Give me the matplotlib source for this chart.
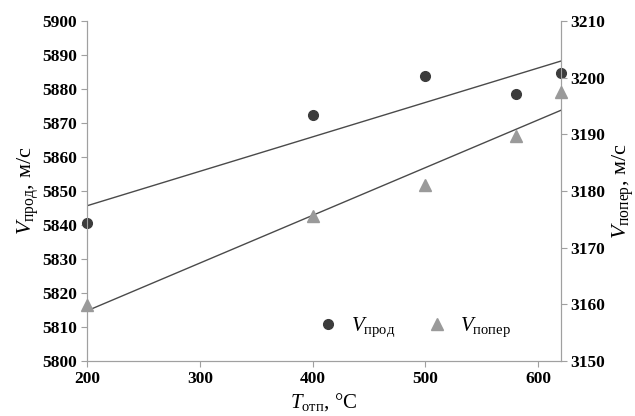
import matplotlib
matplotlib.use("Agg")
import matplotlib.pyplot as plt
import numpy as np

# данные
temp_otp = [200, 400, 500, 580, 620]
v_prod = [5840.6, 5872.4, 5883.8, 5878.5, 5884.7]
v_poper = [3159.9, 3175.6, 3181.1, 3189.7, 3197.5]

plt.rcParams['font.family'] = ['Liberation Serif', 'DejaVu Serif']
plt.rcParams['mathtext.fontset'] = 'custom'
plt.rcParams['mathtext.rm'] = 'Liberation Serif'
plt.rcParams['mathtext.it'] = 'Liberation Serif:italic'

cor_eixo = '#a0a0a0'

fig = plt.figure(figsize=(6.35, 4.16), dpi=100)
ax = fig.add_axes([0.137, 0.132, 0.746, 0.8175])
ax2 = ax.twinx()

x = np.array(temp_otp)
x_lin = np.array([200, 620])

# линии тренда
k1 = np.polyfit(x, v_prod, 1)
k2 = np.polyfit(x, v_poper, 1)
ax.plot(x_lin, np.polyval(k1, x_lin), color='#4a4a4a', lw=1.0, zorder=2)
ax2.plot(x_lin, np.polyval(k2, x_lin), color='#4a4a4a', lw=1.0, zorder=2)

p1, = ax.plot(x, v_prod, 'o', color='#3c3c3c', ms=7, clip_on=False, zorder=3,
              label=r'$V_{\mathrm{прод}}$')
p2, = ax2.plot(x, v_poper, '^', color='#9a9a9a', ms=8, clip_on=False, zorder=3,
               label=r'$V_{\mathrm{попер}}$')

ax.set_xlim(200, 620)
ax.set_ylim(5800, 5900)
ax2.set_ylim(3150, 3210)
ax.set_xticks([200, 300, 400, 500, 600])
ax.set_yticks(np.arange(5800, 5901, 10))
ax2.set_yticks(np.arange(3150, 3211, 10))

for a in (ax, ax2):
    a.spines['top'].set_visible(False)
    for s in ('left', 'right', 'bottom'):
        a.spines[s].set_color(cor_eixo)
    a.tick_params(colors=cor_eixo, length=4, width=0.8, pad=3)
    for lbl in a.get_xticklabels() + a.get_yticklabels():
        lbl.set_color('black')
        lbl.set_fontweight('bold')
        lbl.set_fontsize(12.5)

ax.set_ylabel(r'$V_{\mathrm{прод}}$, м/с', fontsize=16, labelpad=1)
ax2.set_ylabel(r'$V_{\mathrm{попер}}$, м/с', fontsize=16, rotation=90, labelpad=4)
ax.set_xlabel(r'$T_{\mathrm{отп}}$, °С', fontsize=15, labelpad=3)

ax2.legend(handles=[p1, p2], loc='lower right', ncol=2, frameon=False,
           fontsize=15, handletextpad=0.1, columnspacing=1.0,
           bbox_to_anchor=(0.935, 0.01))

fig.savefig('out.png', dpi=100)
